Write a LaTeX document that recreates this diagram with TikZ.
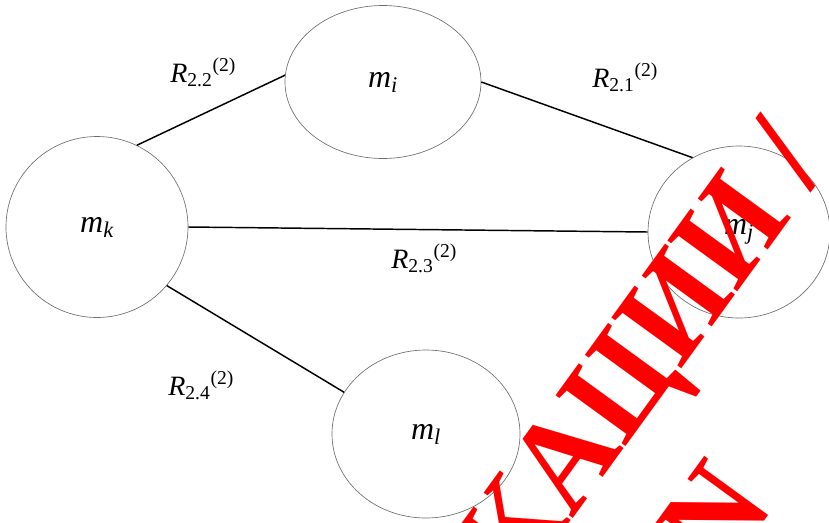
\documentclass[tikz,border=0pt]{standalone}
\usepackage{fontspec}
\setmainfont{Liberation Serif}
\newfontfamily\marcafont{Liberation Serif}
\usepackage{graphicx}
\usepackage{tikz}
\usetikzlibrary{shapes.geometric, positioning, calc}

\begin{document}
\begin{tikzpicture}[x=0.75pt, y=-0.75pt,
  massa/.style={ellipse, draw=contorno, line width=0.5pt, inner sep=0pt, font=\fontsize{24}{28}\selectfont},
  ligacao/.style={line width=1.1pt, draw=black},
  rotulo/.style={anchor=base west, inner sep=0pt, font=\fontsize{21}{25}\selectfont},
  marca/.style={rotate=54, anchor=base west, inner sep=0pt, text=vermelho, font=\marcafont\bfseries\fontsize{99}{120}\selectfont}]
% --- MASSAS E LIGACOES ---
\definecolor{contorno}{HTML}{6E6E6E}
\definecolor{vermelho}{HTML}{FF0000}

\clip (0,0) rectangle (829,522);

% LAYER 1: Massas
\node[massa, minimum width=136.5pt, minimum height=135.75pt] (mk) at (97,227) {\textit{m\textsubscript{k}}};
\node[massa, minimum width=147pt, minimum height=114.75pt] (mi) at (383,82) {\textit{m\textsubscript{i}}};
\node[massa, minimum width=136.5pt, minimum height=129pt] (mj) at (739,232) {\textit{m\textsubscript{j}}};
\node[massa, minimum width=141pt, minimum height=126pt] (ml) at (426,434) {\textit{m\textsubscript{l}}};

% LAYER 2: Ligacoes
\draw[ligacao] (mk.64) -- (mi.176);
\draw[ligacao] (mi.east) -- (mj.122);
\draw[ligacao] (mk.east) -- (mj.west);
\draw[ligacao] (mk.-40) -- (ml.153);

% LAYER 3: Rotulos
\node[rotulo] (r22) at (170,82) {\textit{R}\textsubscript{2.2}\textsuperscript{(2)}};
\node[rotulo] (r21) at (592,87) {\textit{R}\textsubscript{2.1}\textsuperscript{(2)}};
\node[rotulo] (r23) at (391,268) {\textit{R}\textsubscript{2.3}\textsuperscript{(2)}};
\node[rotulo] (r24) at (168,395) {\textit{R}\textsubscript{2.4}\textsuperscript{(2)}};

% LAYER 4: Marca d'agua
\node[marca] (marca1) at (572,520) {\scalebox{0.93}[1]{\llap{К}АЦИИ /}};
\node[marca] (marca2) at (723,578) {\scalebox{0.93}[1]{N}};
\end{tikzpicture}
\end{document}
